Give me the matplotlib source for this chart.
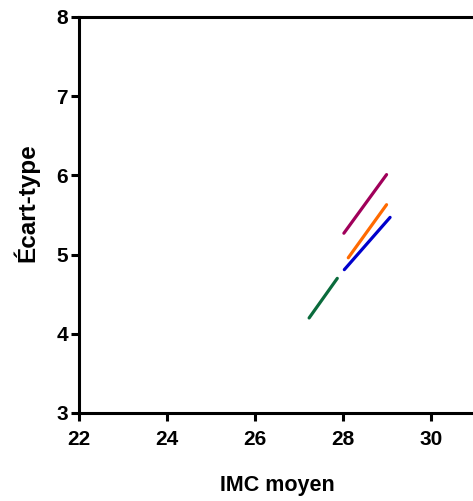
import matplotlib
matplotlib.use("Agg")
import matplotlib.pyplot as plt

plt.rcParams['font.family'] = ['Liberation Sans', 'DejaVu Sans']

# Segments: (start IMC, end IMC), (start SD, end SD)
series_names = ["violet", "orange", "bleu", "vert"]
imc_start = [28.02, 28.12, 28.03, 27.23]
imc_end = [28.99, 28.99, 29.07, 27.87]
sd_start = [5.27, 4.96, 4.81, 4.20]
sd_end = [6.01, 5.63, 5.47, 4.70]
colors = ["#a0005a", "#ff6a00", "#0000cc", "#0a6b3c"]

x_ticks = [22, 24, 26, 28, 30]
y_ticks = [3, 4, 5, 6, 7, 8]

fig = plt.figure(figsize=(4.73, 5.01), dpi=100)
ax = fig.add_axes([79 / 473, 88 / 501, 396 / 473, 396 / 501])

for xs, xe, ys, ye, c in zip(imc_start, imc_end, sd_start, sd_end, colors):
    ax.plot([xs, xe], [ys, ye], color=c, lw=2.3, solid_capstyle='round')

ax.set_xlim(22, 31)
ax.set_ylim(3, 8)
ax.set_xticks(x_ticks)
ax.set_yticks(y_ticks)

for side in ['left', 'bottom', 'top']:
    ax.spines[side].set_linewidth(2.2)
ax.spines['right'].set_visible(False)

ax.tick_params(axis='both', width=2.2, length=6, direction='out', labelsize=15)
ax.tick_params(axis='x', pad=6)
ax.tick_params(axis='y', pad=2)
for lab in ax.get_xticklabels() + ax.get_yticklabels():
    lab.set_fontweight('bold')

ax.set_xlabel("IMC moyen", fontsize=15.5, fontweight='bold', labelpad=19)
ax.set_ylabel("Écart-type", fontsize=17.5, fontweight='bold')
ax.yaxis.set_label_coords(-0.1, 0.53)

fig.savefig("out.png", dpi=100)
